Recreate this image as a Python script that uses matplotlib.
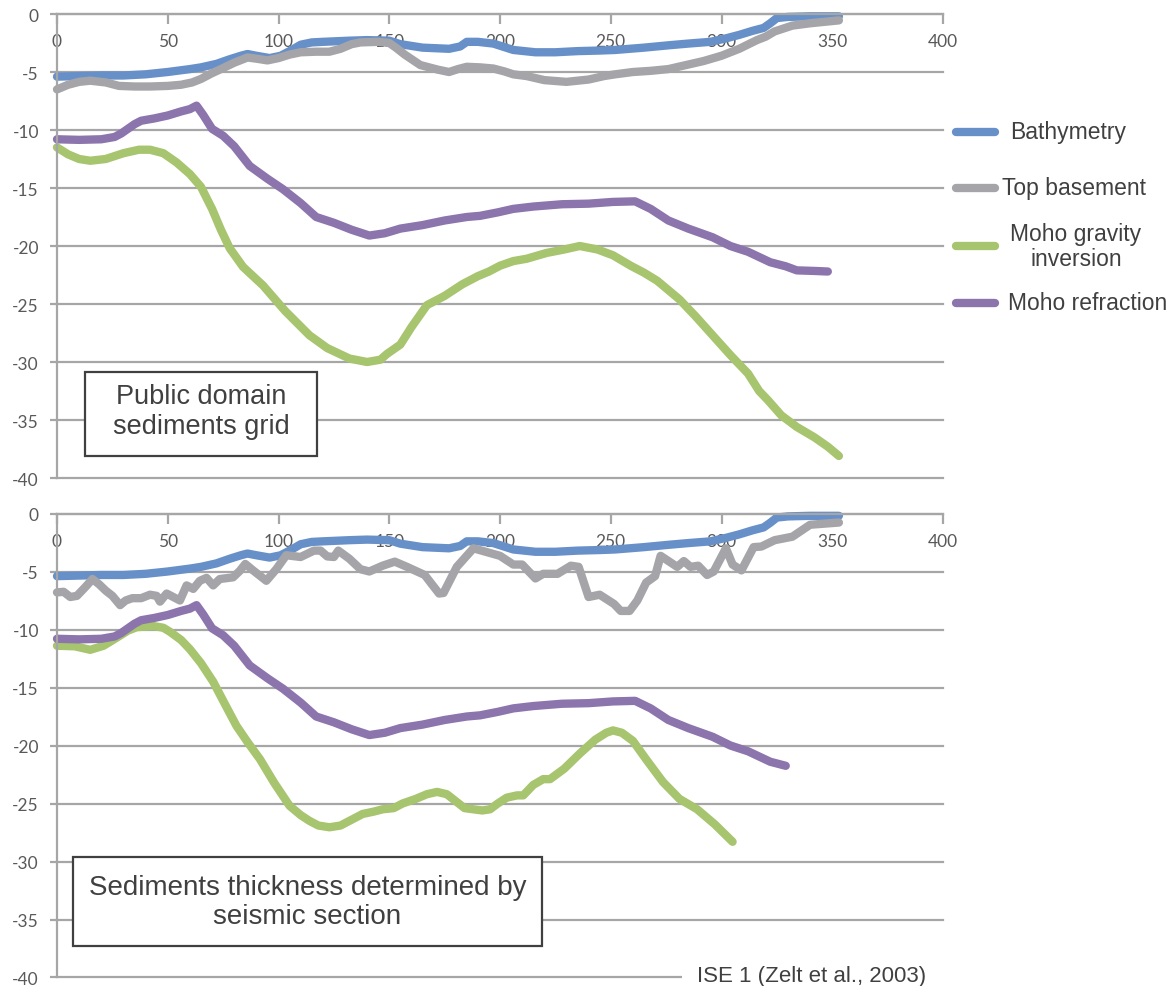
import numpy as np
import matplotlib
matplotlib.use('Agg')
import matplotlib.pyplot as plt
from matplotlib.lines import Line2D
from matplotlib.patches import Rectangle

plt.rcParams['axes.unicode_minus'] = False

# Bathymetry (same in both panels)
bathyX = [0, 10, 20, 30, 40, 50, 60, 65, 72, 78, 83, 86, 90, 96, 101, 106, 110, 115, 120, 132,
          140, 150, 155, 165, 177, 182, 185, 190, 197, 206, 216, 225, 235, 245, 252, 265, 276,
          285, 295, 302, 308, 314, 319, 322, 325, 330, 340, 353]
bathyY = [-5.4, -5.35, -5.3, -5.3, -5.2, -5.0, -4.75, -4.6, -4.3, -3.9, -3.6, -3.45, -3.6, -3.8,
          -3.6, -3.1, -2.65, -2.45, -2.4, -2.3, -2.25, -2.3, -2.6, -2.9, -3.0, -2.8, -2.4, -2.4,
          -2.55, -3.1, -3.3, -3.3, -3.2, -3.15, -3.1, -2.9, -2.7, -2.55, -2.4, -2.1, -1.8, -1.45,
          -1.2, -0.8, -0.35, -0.25, -0.2, -0.2]

# Top basement, public grid (top panel)
baseGridX = [0, 5, 10, 15, 22, 28, 35, 42, 50, 56, 61, 65, 70, 74, 80, 86, 90, 95, 100, 105, 110,
             117, 123, 128, 133, 137, 145, 150, 153, 157, 164, 172, 177, 181, 185, 191, 197, 202,
             206, 212, 220, 230, 240, 247, 252, 260, 268, 276, 284, 292, 300, 308, 316, 320, 324,
             332, 340, 353]
baseGridY = [-6.5, -6.1, -5.85, -5.75, -5.9, -6.2, -6.25, -6.25, -6.2, -6.1, -5.9, -5.6, -5.1,
             -4.75, -4.2, -3.75, -3.85, -4.0, -3.8, -3.5, -3.3, -3.25, -3.25, -3.0, -2.6, -2.45,
             -2.4, -2.5, -2.9, -3.5, -4.4, -4.8, -5.0, -4.75, -4.55, -4.6, -4.7, -4.95, -5.2,
             -5.35, -5.7, -5.85, -5.65, -5.35, -5.2, -5.0, -4.9, -4.75, -4.4, -4.05, -3.6, -3.0,
             -2.25, -1.95, -1.5, -1.0, -0.8, -0.55]

# Top basement, seismic section (bottom panel)
baseSeisX = [0, 3, 6, 9, 13, 16, 19, 22, 25, 28.5, 31, 34, 38, 42, 45, 46.5, 49.5, 52.5, 55.5,
             58.5, 61.5, 64.5, 67.5, 70.5, 73.5, 79.5, 82.5, 85, 88.5, 94.5, 99, 103.5, 110, 116,
             119, 122, 125, 127, 132, 137, 141, 147, 152.5, 158, 166, 172.5, 174.5, 180.5, 188,
             200, 206, 210, 216, 219.5, 226, 232, 235.5, 240, 245, 251.5, 254.5, 258.5, 262, 266,
             270, 272.5, 280, 283, 286, 289.5, 293.5, 296.5, 302, 305, 309, 314.5, 318, 324, 332,
             340, 353]
baseSeisY = [-6.8, -6.75, -7.2, -7.1, -6.3, -5.65, -6.1, -6.65, -7.1, -7.9, -7.5, -7.3, -7.3,
             -7.0, -7.1, -7.6, -6.9, -7.2, -7.5, -6.2, -6.5, -5.8, -5.55, -6.2, -5.65, -5.5, -4.95,
             -4.35, -4.9, -5.8, -4.8, -3.6, -3.75, -3.2, -3.2, -3.7, -3.75, -3.2, -3.9, -4.8, -5.0,
             -4.5, -4.15, -4.6, -5.3, -6.9, -6.85, -4.6, -3.0, -3.65, -4.4, -4.4, -5.6, -5.2, -5.2,
             -4.5, -4.6, -7.2, -7.0, -7.8, -8.4, -8.4, -7.5, -5.95, -5.4, -3.65, -4.6, -4.1, -4.6,
             -4.5, -5.3, -5.0, -3.0, -4.4, -4.9, -2.9, -2.85, -2.3, -2.0, -0.97, -0.78]

# Moho gravity inversion
gravGridX = [0, 5, 10, 15, 22, 30, 37, 42, 48, 54, 60, 65, 70, 74, 78, 84, 93, 103, 114, 122, 132,
             140, 146, 149, 155, 160, 167, 175, 183, 190, 195, 200, 206, 212, 221, 229, 236, 244,
             251, 259, 265, 271, 281, 288, 296, 304, 312, 317, 321, 327, 334, 342, 348, 353]
gravGridY = [-11.5, -12.1, -12.5, -12.65, -12.5, -12.0, -11.7, -11.7, -12.0, -12.8, -13.8, -14.9,
             -16.8, -18.6, -20.2, -21.8, -23.4, -25.6, -27.7, -28.8, -29.7, -30.0, -29.8, -29.3,
             -28.5, -27.0, -25.1, -24.3, -23.3, -22.6, -22.2, -21.7, -21.3, -21.1, -20.6, -20.3,
             -20.0, -20.3, -20.8, -21.7, -22.3, -23.0, -24.6, -26.0, -27.7, -29.4, -31.0, -32.5,
             -33.3, -34.6, -35.6, -36.5, -37.3, -38.1]

gravSeisX = [0, 8, 15, 21, 27, 32, 36, 43.5, 48, 51, 56, 60, 65, 70.5, 76, 81, 86, 91.7, 98, 105,
             110, 114, 118, 123, 128, 133, 138, 143, 147, 152, 156, 162, 167, 171.6, 176, 180,
             184, 188, 192, 195.5, 199, 203, 207.7, 210.5, 215, 219.5, 222.6, 229, 236, 243, 248,
             251, 255, 260, 266, 273.6, 281, 289, 297, 305]
gravSeisY = [-11.4, -11.45, -11.75, -11.4, -10.7, -10.1, -9.8, -9.7, -9.85, -10.2, -10.9, -11.7,
             -12.9, -14.5, -16.5, -18.3, -19.7, -21.2, -23.2, -25.2, -26.0, -26.5, -26.9, -27.05,
             -26.9, -26.4, -25.9, -25.7, -25.5, -25.4, -25.0, -24.6, -24.2, -24.0, -24.2, -24.8,
             -25.4, -25.5, -25.6, -25.5, -25.0, -24.5, -24.3, -24.3, -23.4, -22.9, -22.9, -22.0,
             -20.7, -19.5, -18.9, -18.7, -18.9, -19.6, -21.2, -23.15, -24.6, -25.5, -26.8, -28.3]

# Moho refraction (bottom panel stops at 329 km)
refrX = [0, 10, 20, 26, 29, 32, 35, 38, 44, 50, 56, 60, 63, 66, 70, 75, 80, 87, 95, 102, 110, 117,
         125, 133, 141, 148, 155, 165, 175, 185, 191, 199, 206, 215, 228, 240, 251, 261, 268, 276,
         285, 296, 304, 312, 322, 329, 334, 342, 348]
refrY = [-10.8, -10.85, -10.8, -10.6, -10.3, -9.9, -9.5, -9.2, -9.0, -8.75, -8.4, -8.2, -7.9, -8.7,
         -9.9, -10.5, -11.4, -13.1, -14.2, -15.1, -16.3, -17.5, -18.0, -18.6, -19.1, -18.9, -18.5,
         -18.2, -17.8, -17.5, -17.4, -17.1, -16.8, -16.6, -16.4, -16.35, -16.2, -16.15, -16.8,
         -17.8, -18.5, -19.25, -20.0, -20.5, -21.4, -21.75, -22.1, -22.15, -22.2]
refrEndSeis = 329

labels = ['Bathymetry', 'Top basement', 'Moho gravity\ninversion', 'Moho refraction']
colors = ['#6790C9', '#A5A5A9', '#A7C46F', '#8C74AD']
gridc = '#A6A6A6'
textc = '#404040'

W, H = 1176, 987
fig = plt.figure(figsize=(W / 100, H / 100), dpi=100)


def fx(px):
    return px / W


def fy(py):
    return 1 - py / H


def styleAxis(ax):
    ax.set_xlim(0, 400)
    ax.set_ylim(-40, 0)
    ax.set_xticks(np.arange(0, 401, 50))
    ax.set_yticks(np.arange(-40, 1, 5))
    ax.spines['top'].set_visible(False)
    ax.spines['right'].set_visible(False)
    ax.spines['bottom'].set_position(('data', 0))
    for s in ['left', 'bottom']:
        ax.spines[s].set_color(gridc)
        ax.spines[s].set_linewidth(1.6)
    ax.tick_params(axis='x', direction='out', length=7, width=1.6, color=gridc, pad=7,
                   labelsize=12.5, labelcolor='#595959')
    ax.tick_params(axis='y', direction='out', length=5, width=1.6, color=gridc, pad=8,
                   labelsize=12.5, labelcolor='#595959')
    for lab in ax.get_xticklabels() + ax.get_yticklabels():
        lab.set_fontfamily('Lato')
    ax.yaxis.grid(True, color=gridc, lw=1.6)
    for gl in ax.get_ygridlines():
        gl.set_clip_on(False)
    ax.set_axisbelow(True)


ax1 = fig.add_axes([fx(57), fy(479), 886 / W, 464 / H])
ax2 = fig.add_axes([fx(57), fy(978.5), 886 / W, 464 / H])

lw = 6.0
kw = dict(lw=lw, solid_capstyle='round', solid_joinstyle='round', clip_on=False)

ax1.plot(bathyX, bathyY, color=colors[0], **kw)
ax1.plot(baseGridX, baseGridY, color=colors[1], **kw)
ax1.plot(gravGridX, gravGridY, color=colors[2], **kw)
ax1.plot(refrX, refrY, color=colors[3], **kw)

rx = np.array(refrX)
ry = np.array(refrY)
ax2.plot(bathyX, bathyY, color=colors[0], **kw)
ax2.plot(baseSeisX, baseSeisY, color=colors[1], **kw)
ax2.plot(gravSeisX, gravSeisY, color=colors[2], **kw)
ax2.plot(rx[rx <= refrEndSeis], ry[rx <= refrEndSeis], color=colors[3], **kw)

styleAxis(ax1)
styleAxis(ax2)

# text boxes
fig.add_artist(Rectangle((fx(85), fy(456.7)), fx(317) - fx(85), fy(372.7) - fy(456.7),
                         transform=fig.transFigure, facecolor='white', edgecolor=textc, lw=1.6,
                         zorder=5))
fig.text(fx(201), fy(412), 'Public domain\nsediments grid', ha='center', va='center',
         fontsize=19.5, family='Liberation Sans', color=textc, linespacing=1.2, zorder=6)

fig.add_artist(Rectangle((fx(73), fy(947)), fx(542) - fx(73), fy(858) - fy(947),
                         transform=fig.transFigure, facecolor='white', edgecolor=textc, lw=1.6,
                         zorder=5))
fig.text(fx(307.5), fy(903), 'Sediments thickness determined by\nseismic section', ha='center',
         va='center', fontsize=20, family='Liberation Sans', color=textc, linespacing=1.15,
         zorder=6)

# source label over the bottom gridline
fig.add_artist(Rectangle((fx(682), fy(987)), fx(960) - fx(682), fy(968) - fy(987),
                         transform=fig.transFigure, facecolor='white', edgecolor='none',
                         zorder=5))
fig.text(fx(697), fy(982), 'ISE 1 (Zelt et al., 2003)', ha='left', va='baseline', fontsize=16,
         family='Liberation Sans', color=textc, zorder=6)

# legend drawn by hand
legY = [133, 189, 247, 304]
textX = [1010, 1002, 1076, 1008]
textHa = ['left', 'left', 'center', 'left']
for i in range(4):
    fig.add_artist(Line2D([fx(956), fx(995)], [fy(legY[i]), fy(legY[i])],
                          transform=fig.transFigure, color=colors[i], lw=lw,
                          solid_capstyle='round'))
    fig.text(fx(textX[i]), fy(legY[i]), labels[i], ha=textHa[i], va='center', fontsize=16.5,
             family='Liberation Sans', color=textc, linespacing=1.15, multialignment='center')

fig.savefig('out.png', dpi=100)
